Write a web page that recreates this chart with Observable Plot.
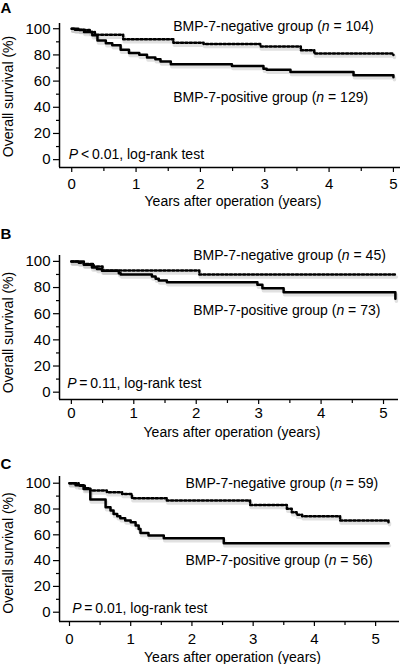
<!DOCTYPE html>
<html>
<head>
<meta charset="utf-8">
<script src="https://cdn.jsdelivr.net/npm/d3@7"></script>
<script src="https://cdn.jsdelivr.net/npm/@observablehq/plot@0.6"></script>
<style>
  html, body { margin: 0; padding: 0; background: #fff; }
  #chart { width: 408px; }
  #chart svg { display: block; overflow: visible; }
</style>
</head>
<body>
<div id="chart"></div>
<script>
// ---------- tick labels & text ----------
const yTicks = [0, 20, 40, 60, 80, 100];
const yMinorTicks = [10, 30, 50, 70, 90];
const xTicks = [0, 1, 2, 3, 4, 5];
const xMinorTicks = [0.5, 1.5, 2.5, 3.5, 4.5];
const xAxisLabel = "Years after operation (years)";
const yAxisLabel = "Overall survival (%)";
const panelLetters = ["A", "B", "C"];
const negativeLabels = ["BMP-7-negative group (n = 104)", "BMP-7-negative group (n = 45)", "BMP-7-negative group (n = 59)"];
const positiveLabels = ["BMP-7-positive group (n = 129)", "BMP-7-positive group (n = 73)", "BMP-7-positive group (n = 56)"];
const pLabels = ["P\u2009<\u20090.01, log-rank test", "P\u2009=\u20090.11, log-rank test", "P\u2009=\u20090.01, log-rank test"];

// ---------- Kaplan–Meier step data (years, survival %) ----------
// Panel A
const negA_years = [0, 0.12, 0.28, 0.36, 0.8, 1.58, 2.05, 2.93, 3.56, 3.77, 5.0];
const negA_surv  = [100, 99, 97.5, 95.5, 92, 89.3, 88.3, 86.5, 83.5, 81, 80];
const posA_years = [0, 0.05, 0.19, 0.32, 0.40, 0.53, 0.63, 0.76, 0.89, 1.05, 1.17, 1.30, 1.38, 1.54, 2.49, 2.98, 3.03, 3.40, 4.38, 5.0];
const posA_surv  = [100, 99.2, 97.5, 95, 91, 89, 87.3, 84, 81.5, 80.2, 78, 76.6, 75, 72.8, 71.5, 69.5, 68.7, 67, 64.5, 63];
// Panel B
const negB_years = [0, 0.12, 0.2, 0.36, 0.5, 2.05, 5.19];
const negB_surv  = [100, 99, 98, 96, 93, 90, 90];
const posB_years = [0, 0.2, 0.33, 0.41, 0.49, 0.76, 0.79, 1.29, 1.35, 1.40, 1.53, 2.98, 3.06, 3.40, 5.19];
const posB_surv  = [100, 97.5, 95.4, 94.2, 92.9, 90.9, 89.9, 88.4, 86.7, 85.4, 84.1, 82.1, 79.5, 76.4, 71.4];
// Panel C
const negC_years = [0, 0.15, 0.25, 0.34, 0.61, 0.86, 1.02, 1.59, 2.95, 3.55, 3.63, 3.71, 3.80, 4.42, 5.21];
const negC_surv  = [100, 98, 96, 94.3, 93, 91.7, 88.4, 86.6, 83.2, 80.2, 77.5, 75.5, 74.4, 71.1, 69.8];
const posC_years = [0, 0.1, 0.23, 0.34, 0.59, 0.67, 0.72, 0.78, 0.83, 0.91, 1.0, 1.08, 1.13, 1.16, 1.29, 1.54, 2.52, 5.21];
const posC_surv  = [100, 98.5, 95.6, 87.3, 81.4, 78.8, 76.2, 74.4, 72.9, 71.1, 69.8, 67.2, 64.6, 61.5, 59.5, 57.4, 53.5, 53.5];

const toRows = (years, surv) => years.map((t, i) => ({t, s: surv[i]}));

// ---------- layout per panel ----------
const layouts = [
  {height: 214, marginTop: 23, marginBottom: 47, right: 400, xDomain: [-0.19, 5.11], yDomain: [-6, 104],
   letterDy: -21, yLabelDy: 1, xLabelDy: 34, xTickPad: 6,
   negPos: [1.577, 101.9], posPos: [1.577, 47.7], pPos: [-0.045, 4.1]},
  {height: 230, marginTop: 41, marginBottom: 45, right: 398, xDomain: [-0.19, 5.24], yDomain: [-5.6, 104.5],
   letterDy: -27, yLabelDy: 5, xLabelDy: 33, xTickPad: 2.5,
   negPos: [1.952, 104.3], posPos: [1.952, 62.4], pPos: [-0.067, 6.4]},
  {height: 220, marginTop: 32, marginBottom: 43, right: 399, xDomain: [-0.163, 5.39], yDomain: [-7.2, 105.2],
   letterDy: -18, yLabelDy: 4, xLabelDy: 36, xTickPad: 7,
   negPos: [1.895, 99.8], posPos: [1.895, 40.1], pPos: [0.044, 2.9]}
];
const series = [
  [toRows(negA_years, negA_surv), toRows(posA_years, posA_surv)],
  [toRows(negB_years, negB_surv), toRows(posB_years, posB_surv)],
  [toRows(negC_years, negC_surv), toRows(posC_years, posC_surv)]
];

function rebuild(el, parts) {
  el.textContent = "";
  for (const [txt, it] of parts) {
    const ts = document.createElementNS("http://www.w3.org/2000/svg", "tspan");
    ts.textContent = txt;
    if (it) ts.setAttribute("font-style", "italic");
    el.appendChild(ts);
  }
}
function italicize(svg) {
  d3.select(svg).selectAll("text").each(function () {
    const s = this.textContent;
    let m = s.match(/^(.*\()n(\s*=.*)$/);
    if (m) { rebuild(this, [[m[1], false], ["n", true], [m[2], false]]); return; }
    m = s.match(/^P([\s\u2009]*[<=].*)$/);
    if (m) rebuild(this, [["P", true], [m[1], false]]);
  });
}

const font = "'Liberation Sans', Arial, Helvetica, sans-serif";

layouts.forEach((L, i) => {
  const [neg, pos] = series[i];
  const lineStyle = {x: "t", y: "s", curve: "step-after"};
  const plot = Plot.plot({
    width: 408,
    height: L.height,
    marginLeft: 59,
    marginRight: 408 - L.right,
    marginTop: L.marginTop,
    marginBottom: L.marginBottom,
    x: {domain: L.xDomain, label: null},
    y: {domain: L.yDomain, label: null},
    style: {fontFamily: font, fontSize: "14px", color: "#000", background: "#fff"},
    marks: [
      Plot.axisY({ticks: yTicks, tickSize: 6, tickPadding: 3, fontSize: 15, label: null, strokeWidth: 1.2, tickFormat: d => String(d)}),
      Plot.axisY({ticks: yMinorTicks, tickSize: 3, tickFormat: () => "", label: null, strokeWidth: 1.2}),
      Plot.axisX({ticks: xTicks, tickSize: 5, tickPadding: L.xTickPad, fontSize: 15, label: null, strokeWidth: 1.2, tickFormat: d => String(d)}),
      Plot.axisX({ticks: xMinorTicks, tickSize: 4, tickFormat: () => "", label: null, strokeWidth: 1.2}),
      Plot.ruleX([L.xDomain[0]], {stroke: "#000", strokeWidth: 1.5}),
      Plot.ruleY([L.yDomain[0]], {stroke: "#000", strokeWidth: 1.5}),
      // soft shadows
      Plot.line(neg, {...lineStyle, stroke: "#888", strokeOpacity: 0.25, strokeWidth: 3.5, dx: 1, dy: 2.5}),
      Plot.line(pos, {...lineStyle, stroke: "#888", strokeOpacity: 0.25, strokeWidth: 3.5, dx: 1, dy: 2.5}),
      // curves
      Plot.line(neg, {...lineStyle, stroke: "#000", strokeWidth: 2.5, strokeDasharray: "2.2,2.2"}),
      Plot.line(pos, {...lineStyle, stroke: "#000", strokeWidth: 2.5}),
      // labels
      Plot.text([{x: L.negPos[0], y: L.negPos[1], label: negativeLabels[i]}], {x: "x", y: "y", text: "label", textAnchor: "start", lineAnchor: "middle", fontSize: 14}),
      Plot.text([{x: L.posPos[0], y: L.posPos[1], label: positiveLabels[i]}], {x: "x", y: "y", text: "label", textAnchor: "start", lineAnchor: "middle", fontSize: 14}),
      Plot.text([{x: L.pPos[0], y: L.pPos[1], label: pLabels[i]}], {x: "x", y: "y", text: "label", textAnchor: "start", lineAnchor: "middle", fontSize: 14}),
      Plot.text([panelLetters[i]], {text: d => d, frameAnchor: "top-left", dx: -59, dy: L.letterDy, textAnchor: "start", lineAnchor: "top", fontSize: 15, fontWeight: "bold"}),
      Plot.text([yAxisLabel], {text: d => d, frameAnchor: "left", rotate: -90, dx: -51, dy: L.yLabelDy, textAnchor: "middle", lineAnchor: "middle", fontSize: 14}),
      Plot.text([xAxisLabel], {text: d => d, frameAnchor: "bottom", dx: 3, dy: L.xLabelDy, textAnchor: "middle", lineAnchor: "middle", fontSize: 14})
    ]
  });
  italicize(plot);
  document.getElementById("chart").appendChild(plot);
});
</script>
</body>
</html>
